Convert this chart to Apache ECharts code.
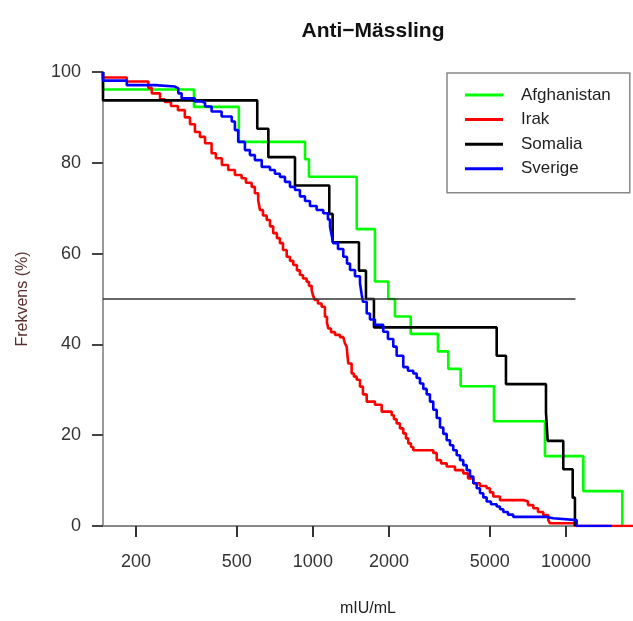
<!DOCTYPE html>
<html><head><meta charset="utf-8">
<script src="https://cdn.jsdelivr.net/npm/echarts@6/dist/echarts.min.js"></script>
<style>html,body{margin:0;padding:0;background:#fff}#c{width:633px;height:621px}</style>
</head><body><div id="c"></div>
<script>
const seriesNames = ['Afghanistan', 'Irak', 'Somalia', 'Sverige'];
const seriesColors = ['#00ff00', '#ff0000', '#000000', '#0000ff'];

const afghanistanX = [148.2, 148.2, 339, 510, 931, 965, 1490, 1759, 1986, 2110, 2435, 3121, 3427, 3837, 5194, 8260, 11710, 16690];
const afghanistanY = [100, 96.15, 92.31, 84.62, 80.77, 76.92, 65.38, 53.85, 50, 46.15, 42.31, 38.46, 34.62, 30.77, 23.08, 15.38, 7.69, 0];

const irakX = [148.2, 148.2, 184, 224, 231, 249, 260, 275, 293, 312, 327, 342, 358, 375, 398, 414, 437, 463, 492, 523, 544, 573, 590, 608, 618, 635, 657, 677, 697, 721, 741, 762, 788, 812, 837, 865, 889, 914, 945, 965, 989, 1001, 1019, 1047, 1083, 1116, 1137, 1150, 1179, 1223, 1280, 1319, 1339, 1360, 1370, 1380, 1423, 1453, 1490, 1535, 1577, 1632, 1759, 1870, 2048, 2091, 2143, 2208, 2276, 2332, 2382, 2441, 2493, 2990, 3085, 3208, 3378, 3642, 3929, 4101, 4303, 4573, 4860, 5008, 5162, 5487, 6782, 7078, 7427, 7752, 8134, 8513, 8646, 10850, 18400];
const irakY = [100, 98.8, 97.9, 96.5, 95.3, 94.0, 93.4, 92.5, 91.6, 90.0, 88.5, 86.8, 85.7, 84.3, 82.1, 81.0, 79.5, 78.4, 77.3, 76.6, 75.6, 74.7, 73.3, 71.8, 69.6, 68.4, 67.4, 66.0, 64.5, 63.4, 62.3, 60.8, 59.3, 58.4, 57.5, 56.3, 55.3, 54.5, 53.8, 52.9, 52.0, 50.8, 49.8, 49.0, 48.3, 46.1, 44.8, 43.5, 42.7, 42.1, 41.6, 41.3, 40.2, 39.5, 37.5, 35.8, 33.6, 32.9, 32.2, 30.7, 29.0, 27.4, 26.7, 25.2, 24.4, 23.5, 22.6, 21.5, 20.4, 19.3, 18.2, 17.4, 16.7, 16.1, 14.5, 13.8, 13.1, 12.3, 11.6, 10.5, 9.4, 8.8, 8.3, 7.4, 6.5, 5.7, 5.4, 4.6, 3.9, 3.1, 2.4, 1.3, 0.6, 0, 0];

const somaliaX = [148.2, 148.2, 603, 667, 850, 1161, 1197, 1521, 1621, 1743, 5324, 5793, 8337, 8467, 9757, 10630, 10850];
const somaliaY = [100, 93.75, 87.5, 81.25, 75, 68.75, 62.5, 56.25, 50, 43.75, 37.5, 31.25, 25, 18.75, 12.5, 6.25, 0];

const sverigeX = [148.2, 148.2, 184, 238, 285, 294, 303, 342, 364, 375, 398, 436, 478, 492, 507, 539, 564, 590, 628, 677, 708, 741, 776, 812, 850, 889, 931, 974, 1035, 1099, 1147, 1169, 1187, 1204, 1257, 1319, 1364, 1402, 1467, 1535, 1559, 1577, 1632, 1681, 1759, 1897, 1980, 2078, 2143, 2276, 2375, 2493, 2571, 2650, 2731, 2816, 2901, 2990, 3085, 3179, 3276, 3378, 3481, 3587, 3700, 3813, 3929, 4053, 4176, 4303, 4438, 4573, 4713, 4860, 5054, 5324, 5487, 5654, 5900, 6191, 8389, 8908, 11020, 15160];
const sverigeY = [100, 98.1, 97.1, 96.8, 96.4, 95.3, 94.2, 93.5, 93.2, 92.4, 91.3, 90.2, 89.1, 87.2, 84.6, 82.8, 81.7, 80.6, 79.1, 78.4, 77.6, 76.9, 75.8, 74.7, 74.0, 72.6, 71.6, 70.5, 69.6, 68.9, 67.5, 65.9, 64.0, 62.3, 61.0, 59.3, 57.8, 56.4, 55.0, 53.5, 51.0, 49.4, 46.8, 45.5, 44.3, 42.8, 41.2, 39.5, 37.5, 35.0, 34.2, 33.6, 32.6, 31.4, 30.2, 29.0, 27.4, 25.6, 23.8, 21.7, 20.3, 18.9, 17.8, 16.7, 15.6, 14.5, 13.4, 12.3, 10.9, 9.4, 8.3, 7.2, 6.3, 5.4, 4.8, 4.3, 3.7, 3.1, 2.5, 2.0, 1.7, 1.3, 0, 0];

const refLineX = [148.2, 10900];
const refLineY = [50, 50];

const xTicks = [200, 500, 1000, 2000, 5000, 10000];
const yTicks = [0, 20, 40, 60, 80, 100];
const xRange = [148.2, 18400];

const FONT = 'Liberation Sans';
const zip = (xs, ys) => xs.map((x, i) => [x, ys[i]]);

const allX = [afghanistanX, irakX, somaliaX, sverigeX];
const allY = [afghanistanY, irakY, somaliaY, sverigeY];

const series = seriesNames.map((name, i) => ({
  name, type: 'line', step: 'end', showSymbol: false, symbol: 'none',
  data: zip(allX[i], allY[i]),
  lineStyle: { color: seriesColors[i], width: 2.6 },
  itemStyle: { color: seriesColors[i] },
  animation: false, clip: true
}));
series.push({
  name: 'ref', type: 'line', showSymbol: false, symbol: 'none',
  data: zip(refLineX, refLineY),
  lineStyle: { color: '#333', width: 1.6 }, animation: false
});

const chart = echarts.init(document.getElementById('c'), null, { renderer: 'canvas' });
chart.setOption({
  animation: false,
  backgroundColor: '#fff',
  title: {
    text: 'Anti\u2212Mässling', left: 368, top: 16, textAlign: 'center',
    textStyle: { fontFamily: FONT, fontWeight: 'bold', fontSize: 21, color: '#111' }
  },
  grid: { left: 103, right: 0, top: 72, bottom: 95, containLabel: false, outerBoundsMode: 'none' },
  legend: {
    data: seriesNames, orient: 'vertical', left: 447, top: 73,
    icon: 'rect', itemWidth: 38, itemHeight: 3, itemGap: 4.6,
    padding: [12, 19, 14, 18],
    borderColor: '#888', borderWidth: 1.5,
    textStyle: { fontFamily: FONT, fontSize: 17, color: '#222', lineHeight: 20, padding: [0, 0, 0, 13] }
  },
  xAxis: {
    type: 'log', logBase: 10, min: xRange[0], max: xRange[1],
    name: 'mIU/mL', nameLocation: 'middle', nameGap: 75,
    nameTextStyle: { fontFamily: FONT, fontSize: 16, color: '#222' },
    axisLine: { show: true, onZero: false, lineStyle: { color: '#888', width: 2 } },
    axisTick: { show: true, customValues: xTicks, length: 11, lineStyle: { color: '#333', width: 2 } },
    axisLabel: { customValues: xTicks, fontFamily: FONT, fontSize: 18, color: '#333', margin: 27,
      formatter: v => String(Math.round(v)) },
    splitLine: { show: false }, minorTick: { show: false }
  },
  yAxis: {
    type: 'value', min: 0, max: 100, interval: 20,
    name: 'Frekvens (%)', nameLocation: 'middle', nameGap: 72, nameRotate: 90,
    nameTextStyle: { fontFamily: FONT, fontSize: 16, color: '#5a2f2f' },
    axisLine: { show: true, lineStyle: { color: '#999', width: 2 } },
    axisTick: { show: true, length: 11, lineStyle: { color: '#444', width: 2 } },
    axisLabel: { fontFamily: FONT, fontSize: 18, color: '#333', margin: 22 },
    splitLine: { show: false }
  },
  series
});
</script></body></html>
